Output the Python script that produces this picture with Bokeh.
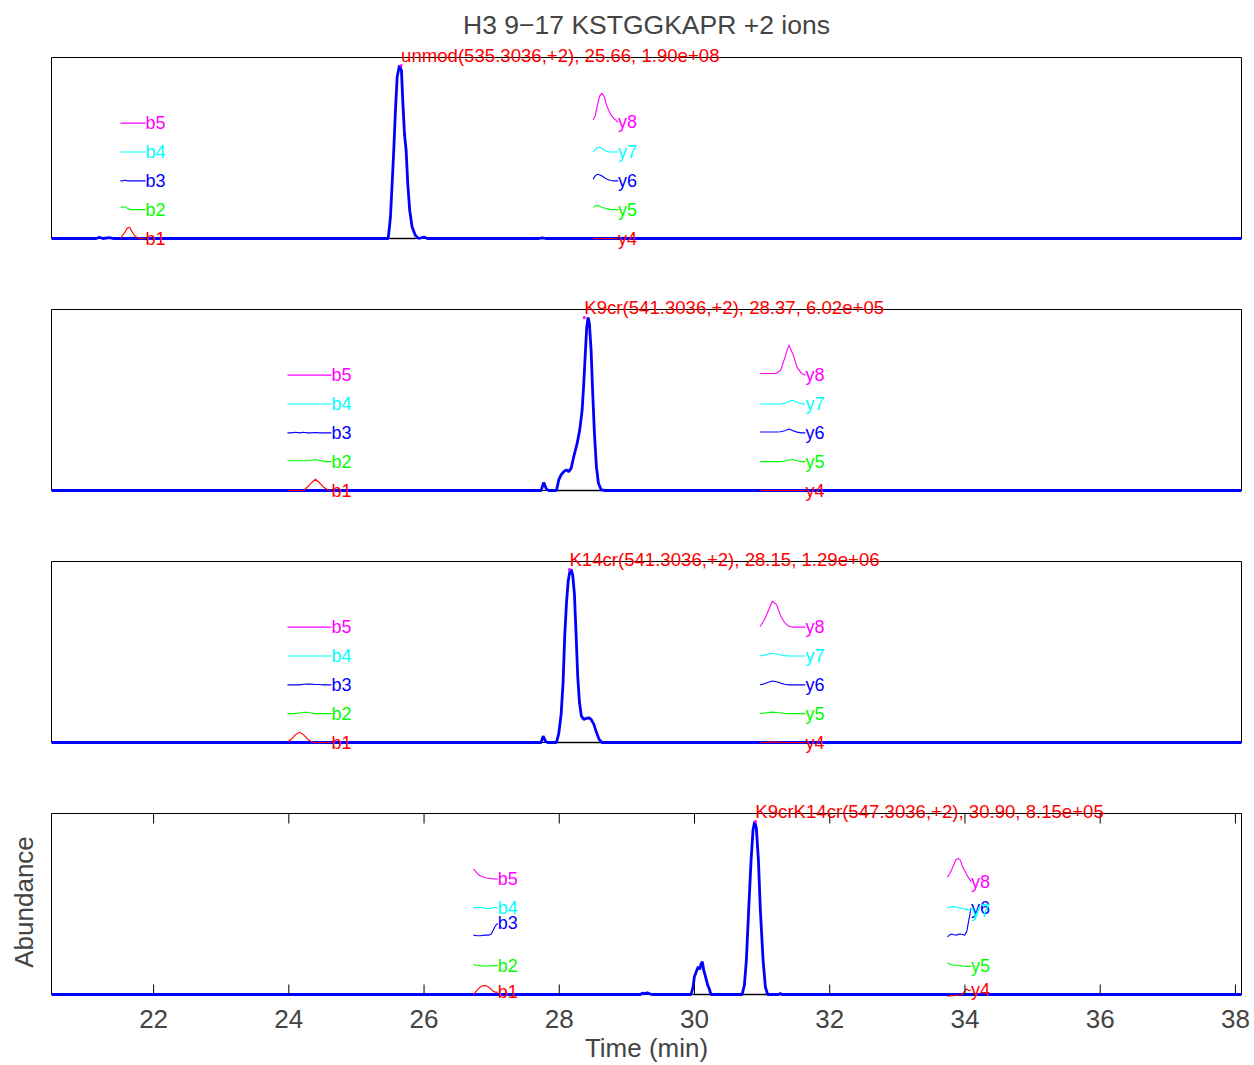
import numpy as np
from bokeh.plotting import figure
from bokeh.layouts import column
from bokeh.models import (Range1d, FixedTicker, LinearAxis, Label, LabelSet,
                          ColumnDataSource, BoxAnnotation)
from bokeh.core.properties import value
from bokeh.embed import file_html
from bokeh.resources import INLINE

# ---------------- data ----------------
TITLE = "H3 9\u221217 KSTGGKAPR +2 ions"
X_LABEL = "Time (min)"
Y_LABEL = "Abundance"
X_MIN, X_MAX = 20.49, 38.09
X_TICKS = [22, 24, 26, 28, 30, 32, 34, 36, 38]

PEAK_NAMES = ["unmod(535.3036,+2), 25.66, 1.90e+08",
              "K9cr(541.3036,+2), 28.37, 6.02e+05",
              "K14cr(541.3036,+2), 28.15, 1.29e+06",
              "K9crK14cr(547.3036,+2), 30.90, 8.15e+05"]
PEAK_RT = [25.66, 28.37, 28.15, 30.90]

# main XIC traces (time in min, relative abundance)
P1_TIME = [20.49, 21.15, 21.20, 21.25, 21.35, 21.40, 25.47, 25.503, 25.528, 25.552,
           25.577, 25.602, 25.636, 25.666, 25.685, 25.710, 25.735, 25.759, 25.788,
           25.824, 25.873, 25.921, 26.00, 26.05, 27.70, 27.75, 27.80, 38.09]
P1_INT = [0, 0, 0.006, 0, 0.005, 0, 0, 0.123, 0.318, 0.509, 0.740, 0.932, 1.0, 0.971,
          0.798, 0.607, 0.509, 0.318, 0.162, 0.065, 0.017, 0, 0.008, 0, 0, 0.004, 0, 0]

P2_TIME = [20.49, 27.731, 27.770, 27.810, 27.844, 27.958, 27.992, 28.027, 28.066,
           28.106, 28.140, 28.175, 28.214, 28.264, 28.302, 28.338, 28.362, 28.387,
           28.406, 28.427, 28.446, 28.471, 28.495, 28.520, 28.549, 28.579, 28.619,
           28.682, 38.09]
P2_INT = [0, 0, 0.046, 0.008, 0, 0, 0.061, 0.090, 0.109, 0.119, 0.109, 0.128, 0.195,
          0.272, 0.349, 0.464, 0.617, 0.808, 0.946, 1.0, 0.962, 0.808, 0.559, 0.329,
          0.138, 0.042, 0.004, 0, 0]

P3_TIME = [20.49, 27.731, 27.761, 27.800, 27.829, 27.958, 27.992, 28.027, 28.056,
           28.081, 28.106, 28.131, 28.155, 28.175, 28.199, 28.224, 28.249, 28.273,
           28.298, 28.327, 28.362, 28.402, 28.436, 28.471, 28.510, 28.549, 28.589,
           28.633, 38.09]
P3_INT = [0, 0, 0.037, 0.005, 0, 0, 0.051, 0.161, 0.344, 0.619, 0.802, 0.930, 0.985,
          1.0, 0.967, 0.857, 0.619, 0.381, 0.234, 0.152, 0.134, 0.139, 0.143, 0.134,
          0.106, 0.060, 0.018, 0, 0]

P4_TIME = [20.49, 29.20, 29.23, 29.26, 29.30, 29.33, 29.37, 29.949, 29.979, 29.998,
           30.017, 30.038, 30.057, 30.077, 30.097, 30.116, 30.136, 30.157, 30.176,
           30.195, 30.216, 30.245, 30.704, 30.738, 30.767, 30.801, 30.837, 30.866,
           30.890, 30.915, 30.945, 30.974, 31.014, 31.048, 31.082, 31.25, 31.27,
           31.29, 38.09]
P4_INT = [0, 0, 0.008, 0.004, 0.01, 0.005, 0, 0, 0.044, 0.102, 0.122, 0.145, 0.160,
          0.145, 0.176, 0.189, 0.141, 0.112, 0.083, 0.054, 0.035, 0, 0, 0.054, 0.199,
          0.488, 0.778, 0.952, 1.0, 0.961, 0.778, 0.488, 0.199, 0.044, 0, 0, 0.006,
          0, 0]

# integration baselines (start, end) in min
P1_BASE = [[25.50, 25.87]]
P2_BASE = [[27.96, 28.62]]
P3_BASE = [[27.97, 28.64]]
P4_BASE = [[29.98, 30.24], [30.70, 31.08]]

# fragment ions
B_IONS = ["b1", "b2", "b3", "b4", "b5"]
Y_IONS = ["y4", "y5", "y6", "y7", "y8"]

# fragment XIC snippets (relative abundance, above each ion's level)
P1_B = [[0, 0.02, 0.037, 0.06, 0.065, 0.042, 0.02, 0.008, 0.002, 0, 0, 0],
        [0.012, 0.017, 0.015, 0.008, 0.003, 0, 0, 0, 0, 0, 0, 0],
        [0, 0, 0.003, 0, 0, 0, 0, 0, 0, 0, 0, 0],
        [0, 0, 0, 0, 0, 0, 0, 0, 0, 0, 0, 0],
        [0, 0, 0, 0, 0, 0, 0, 0, 0, 0, 0, 0]]
P1_Y = [[0, 0, 0, 0, 0, 0, 0, 0, 0, 0, 0, 0],
        [0.013, 0.022, 0.024, 0.02, 0.013, 0.01, 0.006, 0.003, 0, 0, 0, 0],
        [0.01, 0.03, 0.038, 0.034, 0.028, 0.018, 0.01, 0.005, 0.002, 0, 0, 0],
        [0, 0.015, 0.026, 0.026, 0.02, 0.01, 0.004, 0, 0, 0, 0, 0],
        [0.02, 0.045, 0.11, 0.16, 0.173, 0.15, 0.10, 0.07, 0.045, 0.03, 0.018, 0.005]]

P2_B = [[0, 0, 0, 0, 0, 0.02, 0.045, 0.065, 0.045, 0.02, 0.004, 0],
        [0.005, 0.005, 0.005, 0.005, 0.005, 0.005, 0.008, 0.012, 0.006, 0.003, 0, 0],
        [0, 0, 0.003, 0, 0.003, 0, 0, 0.002, 0, 0, 0, 0],
        [0, 0, 0, 0, 0, 0, 0, 0, 0, 0, 0, 0],
        [0, 0, 0, 0, 0, 0, 0, 0, 0, 0, 0, 0]]
P2_Y = [[0, 0, 0, 0, 0, 0, 0, 0, 0, 0, 0, 0],
        [0, 0, 0, 0, 0, 0, 0.004, 0.01, 0.012, 0.005, 0, 0],
        [0.005, 0.005, 0.005, 0.005, 0.005, 0.006, 0.012, 0.022, 0.012, 0.004, 0, 0],
        [0, 0, 0, 0, 0, 0, 0.005, 0.015, 0.02, 0.01, 0.002, 0],
        [0.01, 0.01, 0.01, 0.01, 0.01, 0.03, 0.10, 0.175, 0.12, 0.045, 0.012, 0]]

P3_B = [[0.003, 0.02, 0.045, 0.06, 0.045, 0.02, 0.005, 0, 0, 0, 0, 0],
        [0, 0, 0, 0.004, 0.008, 0.008, 0.004, 0, 0, 0, 0, 0],
        [0, 0, 0, 0, 0.003, 0.005, 0.004, 0.002, 0.002, 0, 0, 0],
        [0, 0, 0, 0, 0, 0, 0, 0, 0, 0, 0, 0],
        [0, 0, 0, 0, 0, 0, 0, 0, 0, 0, 0, 0]]
P3_Y = [[0, 0, 0.002, 0.003, 0.002, 0, 0, 0, 0, 0, 0, 0],
        [0, 0.003, 0.007, 0.009, 0.007, 0.004, 0.001, 0, 0, 0, 0, 0],
        [0, 0.006, 0.015, 0.022, 0.018, 0.01, 0.003, 0, 0, 0, 0, 0],
        [0, 0.005, 0.012, 0.016, 0.012, 0.006, 0.002, 0, 0, 0, 0, 0],
        [0.004, 0.04, 0.095, 0.15, 0.13, 0.065, 0.025, 0.005, 0, 0, 0, 0]]

P4_B = [[0, 0.015, 0.03, 0.042, 0.05, 0.052, 0.05, 0.042, 0.03, 0.018, 0.013, 0.013],
        [0.006, 0.004, 0.002, 0, -0.002, -0.002, -0.002, -0.002, -0.001, 0, 0, 0],
        [0.01, 0.008, 0.006, 0.006, 0.008, 0.01, 0.01, 0.01, 0.015, 0.04, 0.065, 0.078],
        [0.002, 0.003, 0.003, 0.004, 0.002, 0, -0.002, -0.002, 0, 0.002, 0.002, 0],
        [0.058, 0.045, 0.03, 0.02, 0.015, 0.01, 0.007, 0.005, 0.003, 0.002, 0.001, 0]]
P4_Y = [[-0.01, -0.008, -0.007, -0.006, -0.005, -0.003, -0.001, 0, 0.02, 0.033, 0.022, 0.027],
        [0.015, 0.01, 0.005, 0.002, 0.002, 0.002, 0, -0.002, -0.003, -0.004, -0.004, -0.004],
        [0, 0.01, 0.016, 0.012, 0.01, 0.014, 0.016, 0.013, 0.01, 0.03, 0.1, 0.165],
        [0, 0.004, 0.008, 0.008, 0.006, 0.003, 0, -0.003, -0.005, -0.008, -0.012, -0.016],
        [0.012, 0.03, 0.055, 0.085, 0.112, 0.12, 0.11, 0.075, 0.05, 0.025, 0.005, -0.014]]

# ---------------- layout / style ----------------
ION_COLORS = ["#FF0000", "#00FF00", "#0000FF", "#00FFFF", "#FF00FF"]
ION_LEVELS = [0, 1 / 6, 2 / 6, 3 / 6, 4 / 6]
B_WINDOW = [[21.51, 21.88], [23.98, 24.63], [23.98, 24.63], [26.73, 27.09]]
Y_WINDOW = [[28.50, 28.87], [30.97, 31.64], [30.97, 31.64], [33.74, 34.09]]
FONT = "Liberation Sans"

PPU = 173.0            # pixels per unit of relative abundance
BOX_PX = 181           # height of each axes box in px
BOX_TOP = BOX_PX / PPU
TICK_LEN = 10 / PPU
# (border_top, extra_top_inside_frame, extra_bottom_inside_frame, border_bottom)
GEOM = [(39, 18, 12, 24), (17, 18, 12, 24), (17, 18, 12, 24), (23, 12, 8, 63)]

panels = [
    (P1_TIME, P1_INT, P1_BASE, P1_B, P1_Y),
    (P2_TIME, P2_INT, P2_BASE, P2_B, P2_Y),
    (P3_TIME, P3_INT, P3_BASE, P3_B, P3_Y),
    (P4_TIME, P4_INT, P4_BASE, P4_B, P4_Y),
]

pad = (X_MAX - X_MIN) / 1190.0
x_range = Range1d(X_MIN - pad, X_MAX + pad)
figs = []
for i, (t, inten, base, btr, ytr) in enumerate(panels):
    btop, etop, ebot, bbot = GEOM[i]
    fh = BOX_PX + etop + ebot
    p = figure(width=1254, height=btop + fh + bbot, x_range=x_range,
               y_range=Range1d(-ebot / PPU, BOX_TOP + etop / PPU),
               output_backend="svg", toolbar_location=None,
               x_axis_type=None, y_axis_type=None,
               min_border_left=50, min_border_right=12,
               min_border_top=btop, min_border_bottom=bbot)
    p.outline_line_color = None
    p.background_fill_color = "white"
    p.border_fill_color = "white"

    # axes box
    p.add_layout(BoxAnnotation(left=X_MIN, right=X_MAX, bottom=0, top=BOX_TOP,
                               fill_color=None, fill_alpha=0,
                               line_color="black", line_alpha=1, line_width=1,
                               level="underlay"))

    # integration baseline(s)
    for s, e in base:
        p.line([s, e], [0, 0], line_color="black", line_width=1.5)
    # main trace
    p.line(t, inten, line_color="#0000FF", line_width=2.8)

    lx, ly, lt, lc = [], [], [], []
    for names, traces, win in ((B_IONS, btr, B_WINDOW[i]), (Y_IONS, ytr, Y_WINDOW[i])):
        for k, (nm, vals) in enumerate(zip(names, traces)):
            xs = np.linspace(win[0], win[1], len(vals))
            ys = np.array(vals) + ION_LEVELS[k]
            p.line(xs, ys, line_color=ION_COLORS[k], line_width=1.1)
            lx.append(xs[-1]); ly.append(ys[-1]); lt.append(nm); lc.append(ION_COLORS[k])
    src = ColumnDataSource(dict(x=lx, y=ly, text=lt, color=lc))
    p.add_layout(LabelSet(x="x", y="y", text="text", source=src, text_color="color",
                          text_font=value(FONT), text_font_size="18px",
                          text_baseline="middle", text_align="left"))

    p.scatter([PEAK_RT[i]], [1.0], size=3, color="#FF00FF", line_color=None)
    p.add_layout(Label(x=PEAK_RT[i], y=1.0, text=PEAK_NAMES[i], text_color="#FF0000",
                       text_font=FONT, text_font_size="18.6px",
                       text_baseline="bottom", text_align="left"))
    figs.append(p)

# title on first panel
p1 = figs[0]
p1.title.text = TITLE
p1.title.align = "center"
p1.title.text_font = FONT
p1.title.text_font_size = "26.5px"
p1.title.text_font_style = "normal"
p1.title.standoff = 0

# axes on last panel
p4 = figs[3]
n = len(X_TICKS)
p4.segment(x0=X_TICKS, y0=[0] * n, x1=X_TICKS, y1=[TICK_LEN] * n,
           line_color="black", line_width=1)
p4.segment(x0=X_TICKS, y0=[BOX_TOP] * n, x1=X_TICKS, y1=[BOX_TOP - TICK_LEN] * n,
           line_color="black", line_width=1)
xb = LinearAxis(ticker=FixedTicker(ticks=X_TICKS), axis_label=X_LABEL,
                major_tick_in=0, major_tick_out=0, minor_tick_in=0, minor_tick_out=0,
                major_label_text_font=FONT, major_label_text_font_size="26px",
                axis_label_text_font=FONT, axis_label_text_font_size="26px",
                axis_label_text_font_style="normal", major_label_standoff=7,
                axis_label_standoff=2, axis_line_color=None)
p4.add_layout(xb, "below")
yl = LinearAxis(ticker=FixedTicker(ticks=[]), axis_label=Y_LABEL,
                major_tick_in=0, major_tick_out=0, minor_tick_in=0, minor_tick_out=0,
                major_label_standoff=0,
                axis_label_text_font=FONT, axis_label_text_font_size="26px",
                axis_label_text_font_style="normal", axis_label_standoff=12,
                axis_line_color=None)
p4.add_layout(yl, "left")

layout = column(*figs, spacing=0)
open("out.html", "w").write(file_html(layout, INLINE))
